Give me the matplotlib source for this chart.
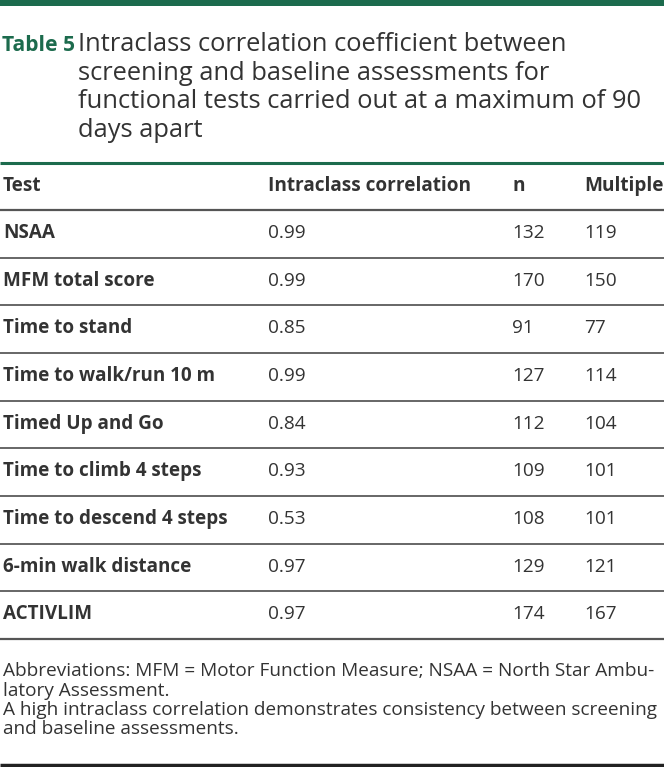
import matplotlib
matplotlib.use("Agg")
import matplotlib.pyplot as plt
from matplotlib.lines import Line2D

# ---- data ----
table_label = "Table 5"
title_lines = [
    "Intraclass correlation coefficient between",
    "screening and baseline assessments for",
    "functional tests carried out at a maximum of 90",
    "days apart",
]
columns = ["Test", "Intraclass correlation", "n", "Multiple"]
tests = ["NSAA", "MFM total score", "Time to stand", "Time to walk/run 10 m",
         "Timed Up and Go", "Time to climb 4 steps", "Time to descend 4 steps",
         "6-min walk distance", "ACTIVLIM"]
icc = ["0.99", "0.99", "0.85", "0.99", "0.84", "0.93", "0.53", "0.97", "0.97"]
n_vals = [132, 170, 91, 127, 112, 109, 108, 129, 174]
multiple = [119, 150, 77, 114, 104, 101, 101, 121, 167]
footnotes = [
    "Abbreviations: MFM = Motor Function Measure; NSAA = North Star Ambu-",
    "latory Assessment.",
    "A high intraclass correlation demonstrates consistency between screening",
    "and baseline assessments.",
]

# ---- layout (pixels) ----
W, H = 664, 767
GREEN = "#1c6b4d"
TXT = "#333333"
FONT = "Open Sans"

fig = plt.figure(figsize=(W / 100, H / 100), dpi=100)
ax = fig.add_axes([0, 0, 1, 1])
ax.set_xlim(0, W)
ax.set_ylim(H, 0)
ax.axis("off")
renderer = fig.canvas.get_renderer()


def fit_size(text, target_w, weight="normal"):
    t = ax.text(0, 0, text, fontsize=10, family=FONT, weight=weight)
    w = t.get_window_extent(renderer).width
    t.remove()
    return 10 * target_w / w


def hline(y, lw, color):
    ax.add_line(Line2D([0, W], [y, y], lw=lw, color=color, solid_capstyle="butt"))


# top green bar
ax.add_patch(plt.Rectangle((0, 0), W, 6, color=GREEN, lw=0))

# title
title_size = fit_size(title_lines[2], 644 - 78)
label_size = fit_size(table_label, 75 - 2, weight="bold")
ax.text(2, 51, table_label, fontsize=label_size, family=FONT, weight="bold",
        color=GREEN, va="baseline", ha="left")
for i, line in enumerate(title_lines):
    ax.text(78, 51 + i * 28.7, line, fontsize=title_size, family=FONT,
            color=TXT, va="baseline", ha="left")
hline(163, 2.2, GREEN)

# header
col_x = [3, 268, 512, 584]
head_size = fit_size(columns[1], 472 - 268, weight="bold")
for x, c in zip(col_x, columns):
    ax.text(x, 191, c, fontsize=head_size, family=FONT, weight="bold",
            color=TXT, va="baseline", ha="left")
hline(210, 1.6, "#555555")

# rows
pitch = (639 - 210) / len(tests)
row_bold = fit_size(tests[6], 228 - 3, weight="bold")
body_size = head_size
for i, t in enumerate(tests):
    yb = 238 + i * pitch
    ax.text(col_x[0], yb, t, fontsize=row_bold, family=FONT, weight="bold",
            color=TXT, va="baseline")
    ax.text(col_x[1], yb, icc[i], fontsize=body_size, family=FONT,
            color=TXT, va="baseline")
    ax.text(col_x[2], yb, str(n_vals[i]), fontsize=body_size, family=FONT,
            color=TXT, va="baseline")
    ax.text(col_x[3], yb, str(multiple[i]), fontsize=body_size, family=FONT,
            color=TXT, va="baseline")
    ly = 210 + (i + 1) * pitch
    if i < len(tests) - 1:
        hline(ly, 1.3, "#5a5a5a")
    else:
        hline(ly, 1.6, "#555555")

# footnotes
foot_size = fit_size(footnotes[0], 654 - 3)
for i, f in enumerate(footnotes):
    ax.text(3, 676 + i * 19.5, f, fontsize=foot_size, family=FONT,
            color=TXT, va="baseline")

hline(765, 2.5, "#222222")

fig.savefig("out.png", dpi=100)
